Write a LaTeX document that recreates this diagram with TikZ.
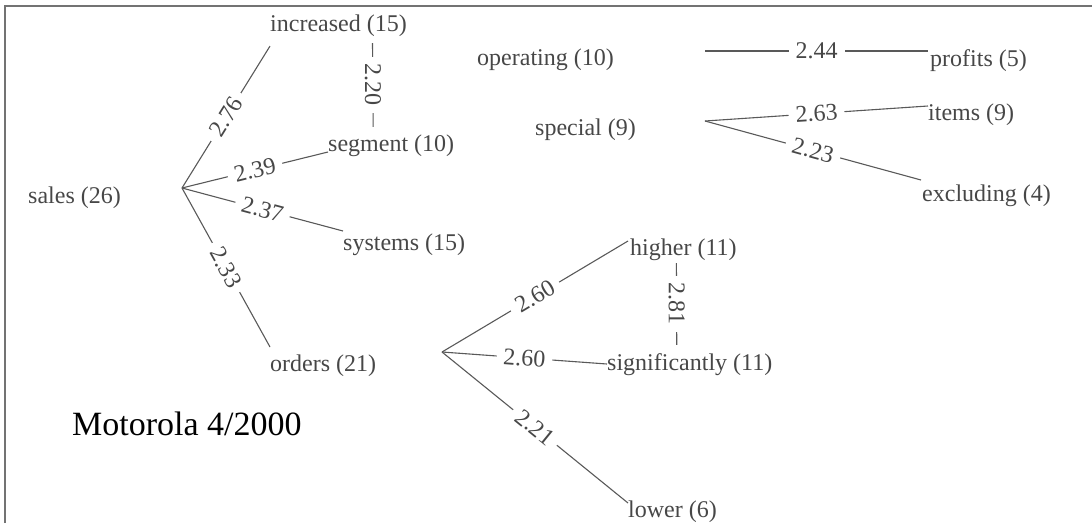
\documentclass[tikz,border=0pt]{standalone}
\usepackage{fontspec}
\setmainfont{Liberation Serif}
\newcommand\wfont{\fontsize{24}{28}\selectfont}
\newcommand\mfont{\fontsize{34}{40}\selectfont}
\begin{document}
\begin{tikzpicture}[x=1pt,y=-1pt,
  word/.style={font=\wfont, text=black!72, inner sep=0pt, anchor=west, yshift=-3pt},
  link/.style={draw=black!65, line width=1.1pt},
  wt/.style={font=\wfont, text=black!72, fill=white, inner xsep=7pt, inner ysep=0pt},
  frameline/.style={draw=black!55, line width=1.5pt}]
\useasboundingbox (0,0) rectangle (1092,523);
\draw[frameline] (5,523) -- (5,6) -- (1092,6);

% words
\node[word] (incr)   at (270,23)  {increased (15)};
\node[word] (oper)   at (477,57)  {operating (10)};
\node[word] (prof)   at (930,58)  {profits (5)};
\node[word] (spec)   at (535,127) {special (9)};
\node[word] (items)  at (928,112) {items (9)};
\node[word] (excl)   at (922,193) {excluding (4)};
\node[word] (segm)   at (328,143) {segment (10)};
\node[word] (sales)  at (28,195)  {sales (26)};
\node[word] (syst)   at (343,242) {systems (15)};
\node[word] (orders) at (270,363) {orders (21)};
\node[word] (higher) at (630,247) {higher (11)};
\node[word] (signif) at (607,362) {significantly (11)};
\node[word] (lower)  at (628,509) {lower (6)};
\node[font=\mfont, text=black, inner sep=0pt, anchor=base west] (moto) at (72,435) {Motorola 4/2000};

% hubs
\coordinate (salesH)  at (182,188);
\coordinate (specH)   at (705,121);
\coordinate (ordersH) at (442,352);
\coordinate (operH)   at (705,51);

% sales edges
\draw[link] (salesH) -- node[wt, sloped] {2.76} ([yshift=-9pt]incr.south west);
\draw[link] (salesH) -- node[wt, sloped] {2.39} ([yshift=-6pt]segm.west);
\draw[link] (salesH) -- node[wt, sloped] {2.37} ([yshift=14pt]syst.west);
\draw[link] (salesH) -- node[wt, sloped] {2.33} ([yshift=19pt]orders.west);
\draw[link] ([xshift=34pt,yshift=-6pt]incr.south) -- node[wt, rotate=-90] {2.20} ([xshift=-18pt,yshift=8pt]segm.north);

% operating / special
\draw[link] (operH) -- node[wt] {2.44} ([xshift=-2pt,yshift=10pt]prof.west);
\draw[link] (specH) -- node[wt, sloped] {2.63} ([yshift=9pt]items.west);
\draw[link] (specH) -- node[wt, sloped] {2.23} ([xshift=-1pt,yshift=16pt]excl.west);

% orders edges
\draw[link] (ordersH) -- node[wt, sloped] {2.60} ([xshift=-2pt,yshift=9pt]higher.west);
\draw[link] (ordersH) -- node[wt, sloped] {2.60} ([yshift=1pt]signif.west);
\draw[link] (ordersH) -- node[wt, sloped] {2.21} ([yshift=9pt]lower.west);
\draw[link] ([xshift=-7pt,yshift=-2pt]higher.south) -- node[wt, rotate=-90] {2.81} ([xshift=-13pt,yshift=9pt]signif.north);
\end{tikzpicture}
\end{document}
